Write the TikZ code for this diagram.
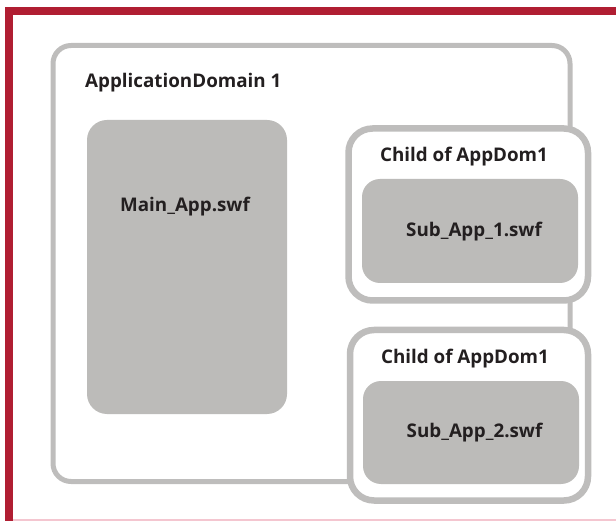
\documentclass[tikz,border=0pt]{standalone}
\usepackage{fontspec}
\setmainfont{Open Sans}
\usepackage{tikz}
\usetikzlibrary{positioning}

\definecolor{framered}{RGB}{176,30,50}
\definecolor{framepink}{RGB}{244,198,208}
\definecolor{boxline}{RGB}{190,189,188}
\definecolor{boxfill}{RGB}{188,187,185}
\definecolor{txt}{RGB}{35,31,32}

\begin{document}
\begin{tikzpicture}[x=1pt,y=-1pt,font=\bfseries\fontsize{18.8}{22}\selectfont,text=txt]
\tikzstyle{appdom}=[draw=boxline,fill=white,line width=5pt,inner sep=0pt]
\tikzstyle{childdom}=[appdom,line width=6.5pt,rounded corners=24pt]
\tikzstyle{swf}=[fill=boxfill,inner sep=0pt,rounded corners=20pt]
\tikzstyle{lbl}=[inner sep=0pt,anchor=base]
\useasboundingbox (0,0) rectangle (616,521);
\clip (0,0) rectangle (616,521);
% frame
\draw[framered,line width=8.3pt] (9,560) -- (9,11) -- (660,11);
\draw[framepink,line width=1.2pt] (13,520) -- (616,520);
% outer domain
\node[appdom,rounded corners=18pt,minimum width=517pt,minimum height=436pt] (dom) at (311.5,263.5) {};
\node[lbl,anchor=base west] (domlbl) at (85,88) {ApplicationDomain 1};
\node[swf,minimum width=200pt,minimum height=294pt] (main) at (187,267) {};
\node[lbl] (mainlbl) at (185,211.7) {Main\_App.swf};
% child domains
\node[childdom,minimum width=239.5pt,minimum height=172pt] (c1) at (468.25,214.5) {};
\node[lbl] (c1lbl) at (464,161.7) {Child of AppDom1};
\node[swf,rounded corners=18pt,minimum width=216pt,minimum height=104pt] (sub1) at (470,231) {};
\node[lbl] (sub1lbl) at (474,236.3) {Sub\_App\_1.swf};
\node[childdom,minimum width=238pt,minimum height=170.5pt] (c2) at (469,415.25) {};
\node[lbl] (c2lbl) at (465,363) {Child of AppDom1};
\node[swf,rounded corners=18pt,minimum width=216pt,minimum height=103pt] (sub2) at (471,432.5) {};
\node[lbl] (sub2lbl) at (474.5,437) {Sub\_App\_2.swf};
\end{tikzpicture}
\end{document}
